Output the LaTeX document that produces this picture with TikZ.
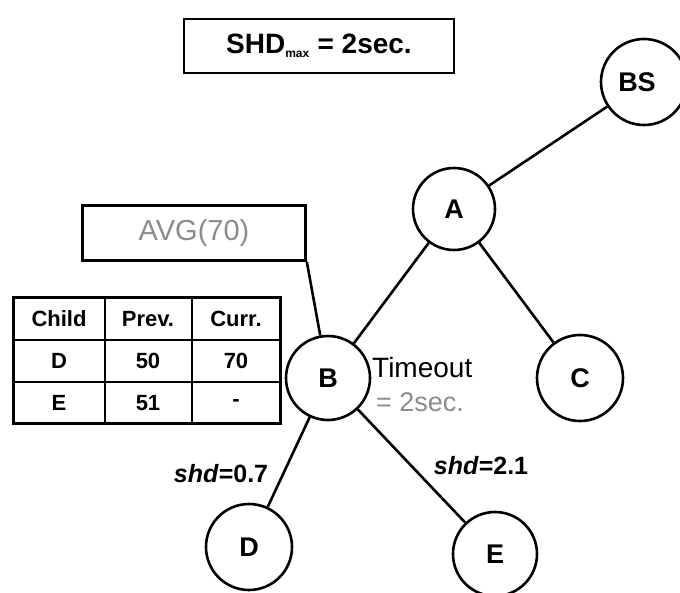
\documentclass[tikz,border=0pt]{standalone}
\usepackage{fontspec}
\setmainfont{Liberation Sans}
\begin{document}
\begin{tikzpicture}[x=1pt,y=-1pt,
  treenode/.style={circle,draw,line width=2.6pt,minimum size=84pt,inner sep=0pt,
    font=\fontsize{27}{29}\selectfont\bfseries},
  edge/.style={line width=2.6pt},
  box/.style={draw,line width=2.6pt,inner sep=0pt},
  cell/.style={font=\fontsize{22}{24}\selectfont\bfseries},
  softtext/.style={text=black!45},
  shdlabel/.style={font=\fontsize{25}{27}\selectfont\bfseries}]
\useasboundingbox (0,0) rectangle (680,593);

% header box
\node[box,minimum width=270pt,minimum height=54pt,font=\fontsize{28}{30}\selectfont\bfseries]
  (shd) at (319,46) {SHD\textsubscript{\fontsize{12}{13}\selectfont max} = 2sec.};

% tree nodes
\node[treenode,minimum size=86pt] (BS) at (644,82) {\hspace*{-14pt}BS};
\node[treenode,minimum size=82pt] (A) at (454,209) {A};
\node[treenode] (B) at (328,378) {B};
\node[treenode,minimum size=86pt] (C) at (580,378) {C};
\node[treenode,minimum size=86pt] (D) at (249,547) {D};
\node[treenode,minimum size=84pt] (E) at (495,554) {E};

\draw[edge] (BS) -- (A);
\draw[edge] (A) -- (B);
\draw[edge] (A) -- (C);
\draw[edge] (B) -- (D);
\draw[edge] (B) -- (E);

% aggregated value box
\node[box,minimum width=223pt,minimum height=55pt,softtext,
  font=\fontsize{29}{31}\selectfont] (avg) at (194,233) {AVG(70)};
\draw[edge] (avg.south east) -- (B);

% timeout note
\node[anchor=west,inner sep=0pt,font=\fontsize{28}{30}\selectfont] (tout) at (372,367) {Timeout};
\node[anchor=west,inner sep=0pt,softtext,font=\fontsize{27}{29}\selectfont] (tsec) at (376,402) {= 2sec.};

% edge labels
\node[shdlabel,inner sep=0pt] (l1) at (221,474) {\textit{shd}=0.7};
\node[shdlabel,inner sep=0pt] (l2) at (481,466) {\textit{shd}=2.1};

% child table
\draw[line width=3pt] (13,298) rectangle (280,423);
\draw[line width=2.4pt] (13,340) -- (280,340);
\draw[line width=2.4pt] (13,382) -- (280,382);
\draw[line width=2.4pt] (105,298) -- (105,423);
\draw[line width=2.4pt] (192,298) -- (192,423);
\node[cell] (h1) at (59,319) {Child};
\node[cell] (h2) at (148,319) {Prev.};
\node[cell] (h3) at (236,319) {Curr.};
\node[cell] (d1) at (59,361) {D};
\node[cell] (d2) at (148,361) {50};
\node[cell] (d3) at (236,361) {70};
\node[cell] (e1) at (59,403) {E};
\node[cell] (e2) at (148,403) {51};
\node[cell] (e3) at (236,403) {-};
\end{tikzpicture}
\end{document}
